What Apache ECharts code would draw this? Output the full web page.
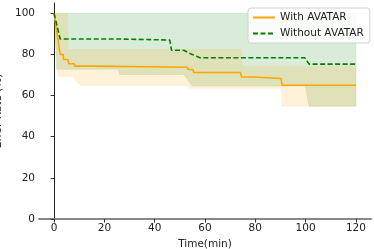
<!DOCTYPE html>
<html><head><meta charset="utf-8">
<script src="https://cdn.jsdelivr.net/npm/echarts@6/dist/echarts.min.js"></script>
<style>html,body{margin:0;padding:0;background:#fff}#c{width:374px;height:249px}</style>
</head><body><div id="c"></div>
<script>
const seriesNames = ['With AVATAR', 'Without AVATAR'];
const xTicks = [0, 20, 40, 60, 80, 100, 120];
const yTicks = [0, 20, 40, 60, 80, 100];

// mean lines
const withX = [0, 0.4, 2.4, 3.6, 3.8, 5.5, 5.8, 8.0, 8.3, 16.0, 16.3, 53.0, 53.3, 55.2, 55.5, 74.2, 74.5, 79.2, 79.5, 90.3, 90.6, 120];
const withY = [100, 100, 80, 80, 77.5, 77.5, 75.5, 75.5, 74.3, 74.3, 73.8, 73.8, 72.7, 72.7, 71.2, 71.2, 69.0, 69.0, 68.3, 68.3, 65.0, 65.0];
const withoutX = [0, 2.4, 25.5, 25.8, 46.0, 46.7, 51.6, 54.0, 58.0, 99.6, 101.4, 120];
const withoutY = [100, 87.5, 87.5, 87.0, 87.0, 82.0, 82.0, 80.5, 78.4, 78.4, 75.3, 75.3];

// bands
const withUpperX = [0, 5.3, 5.5, 74.3, 74.7, 120];
const withUpperY = [100, 100, 82.4, 82.4, 74.3, 74.3];
const withLowerX = [0, 1.6, 7.6, 9.2, 11.0, 53.5, 53.8, 90.3, 90.8, 120];
const withLowerY = [100, 69.4, 69.4, 66.2, 64.9, 64.9, 63.5, 63.5, 54.8, 54.8];
const withoutUpperX = [0, 120];
const withoutUpperY = [100, 100];
const withoutLowerX = [0, 1.05, 25.5, 26.0, 51.6, 55.0, 99.8, 101.4, 120];
const withoutLowerY = [100, 72.8, 72.8, 70.2, 70.2, 64.6, 64.6, 54.8, 54.8];

const FONT = 'DejaVu Sans';
const zip = (xs, ys) => xs.map((x, i) => [x, ys[i]]);

function band(id, ux, uy, lx, ly, fill, stroke) {
  return {
    type: 'custom', id: id, silent: true, z: 1, clip: true,
    data: [[ux[0], uy[0]]],
    renderItem: function (params, api) {
      if (params.dataIndex !== 0) return null;
      const pts = [];
      for (let i = 0; i < ux.length; i++) pts.push(api.coord([ux[i], uy[i]]));
      for (let i = lx.length - 1; i >= 0; i--) pts.push(api.coord([lx[i], ly[i]]));
      return { type: 'polygon', shape: { points: pts }, style: { fill: fill, stroke: stroke, lineWidth: 0.8 } };
    }
  };
}

const chart = echarts.init(document.getElementById('c'));
chart.setOption({
  animation: false,
  textStyle: { fontFamily: FONT },
  grid: { left: 39, right: 3, top: 3, bottom: 30, containLabel: false, outerBoundsMode: 'none' },
  legend: {
    data: seriesNames, orient: 'vertical', left: 248, top: 8,
    padding: [4, 6, 4, 4], itemGap: 5, itemWidth: 22, itemHeight: 10,
    itemStyle: { opacity: 0 },
    backgroundColor: 'rgba(255,255,255,0.85)', borderColor: '#d0d0d0', borderWidth: 1, borderRadius: 3,
    textStyle: { fontFamily: FONT, fontSize: 10.5, color: '#222' }
  },
  xAxis: {
    type: 'value', min: -6, max: 126,
    name: 'Time(min)', nameLocation: 'middle', nameGap: 18,
    nameTextStyle: { fontFamily: FONT, fontSize: 10.5, color: '#222' },
    splitLine: { show: false },
    axisLine: { show: true, onZero: false, lineStyle: { color: '#888', width: 2 } },
    axisTick: { show: true, length: 3.5, lineStyle: { color: '#333' }, customValues: xTicks },
    axisLabel: { customValues: xTicks, margin: 4, fontSize: 10.5, color: '#222', fontFamily: FONT }
  },
  yAxis: {
    type: 'value', min: 0, max: 105,
    name: 'Error Rate (%)', nameLocation: 'middle', nameGap: 28.5, nameRotate: 90,
    nameTextStyle: { fontFamily: FONT, fontSize: 10.5, color: '#222' },
    splitLine: { show: false },
    axisLine: { show: true, lineStyle: { color: '#222', width: 1 } },
    axisTick: { show: true, length: 3.5, lineStyle: { color: '#333' }, customValues: yTicks },
    axisLabel: { customValues: yTicks, margin: 4, fontSize: 10.5, color: '#222', fontFamily: FONT }
  },
  series: [
    band('bandWithout', withoutUpperX, withoutUpperY, withoutLowerX, withoutLowerY, 'rgba(0,128,0,0.15)', 'rgba(0,128,0,0.12)'),
    band('bandWith', withUpperX, withUpperY, withLowerX, withLowerY, 'rgba(255,165,0,0.15)', 'rgba(255,165,0,0.12)'),
    {
      name: seriesNames[0], type: 'line', data: zip(withX, withY), symbol: 'none', z: 3,
      lineStyle: { color: '#FFA500', width: 1.6 }, itemStyle: { color: '#FFA500' }
    },
    {
      name: seriesNames[1], type: 'line', data: zip(withoutX, withoutY), symbol: 'none', z: 4,
      lineStyle: { color: '#008000', width: 1.6, type: [5, 2.5] }, itemStyle: { color: '#008000' }
    }
  ]
});
</script></body></html>
